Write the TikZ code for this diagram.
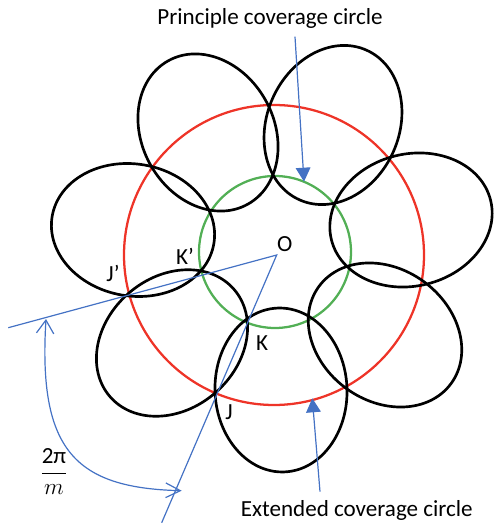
\documentclass[tikz,border=0pt]{standalone}
\usepackage{fontspec}
\setmainfont{Carlito}
\usetikzlibrary{arrows.meta}
\definecolor{myred}{RGB}{238,52,40}
\definecolor{mygreen}{RGB}{82,175,85}
\definecolor{myblue}{RGB}{68,114,196}
\begin{document}
\begin{tikzpicture}[x=0.75pt,y=0.75pt,
  petal/.style={draw=black,line width=2pt},
  ring/.style={line width=1.7pt},
  guide/.style={draw=myblue,line width=0.9pt},
  lbl/.style={font=\fontsize{17.3}{20}\selectfont, inner sep=0pt, anchor=base},
  ]
\useasboundingbox (0,0) rectangle (493,525);
\coordinate (O) at (276.7,270);
\coordinate (RC) at (274,270);
\coordinate (GC) at (275,273);
\draw[ring, myred] (RC) circle (150);
\draw[ring, mygreen] (GC) circle (76);
\foreach \cx/\cy/\t in {281/135/-87.5, 385/190/-36.4, 411/305/14, 333/400/65.8, 208/392.5/118.9, 133/295/170.4, 172/182/220.8}{
  \begin{scope}[shift={(\cx,\cy)}, rotate=\t]
    \draw[petal] (0,0) ellipse [x radius=82, y radius=66];
  \end{scope}
}
\coordinate (LE) at (8.3,197.3);
\coordinate (BE) at (161.7,2.3);
\draw[guide] (LE) -- (O) -- (BE);
\coordinate (A1) at (46,206);
\coordinate (A2) at (181.7,34.3);
\draw[guide, {Straight Barb[length=10pt,width=13pt]}-{Straight Barb[length=11pt,width=11pt]}] (A1) .. controls (38,75) and (75,37) .. (A2);
\coordinate (P1s) at (295,488.3);
\coordinate (P1e) at (304,343.3);
\draw[guide, -{Triangle[length=10.5pt,width=11pt]}] (P1s) -- (P1e);
\coordinate (P2s) at (320,33.3);
\coordinate (P2e) at (312.3,126.7);
\draw[guide, -{Triangle[length=10.5pt,width=11pt]}] (P2s) -- (P2e);
\node[lbl] (t1) at (270,500) {Principle coverage circle};
\node[lbl] (t2) at (356.7,8.3) {Extended coverage circle};
\node[lbl] (lO) at (284.7,273.3) {O};
\node[lbl] (lKp) at (185,260) {K’};
\node[lbl] (lJp) at (113,243.3) {J’};
\node[lbl] (lK) at (262,174.3) {K};
\node[lbl] (lJ) at (229,105) {J};
\node[font=\fontsize{17.3}{20}\selectfont, inner sep=0pt] (frac) at (54,53.3) {$\displaystyle\frac{\mbox{2π}}{m}$};
\end{tikzpicture}
\end{document}
